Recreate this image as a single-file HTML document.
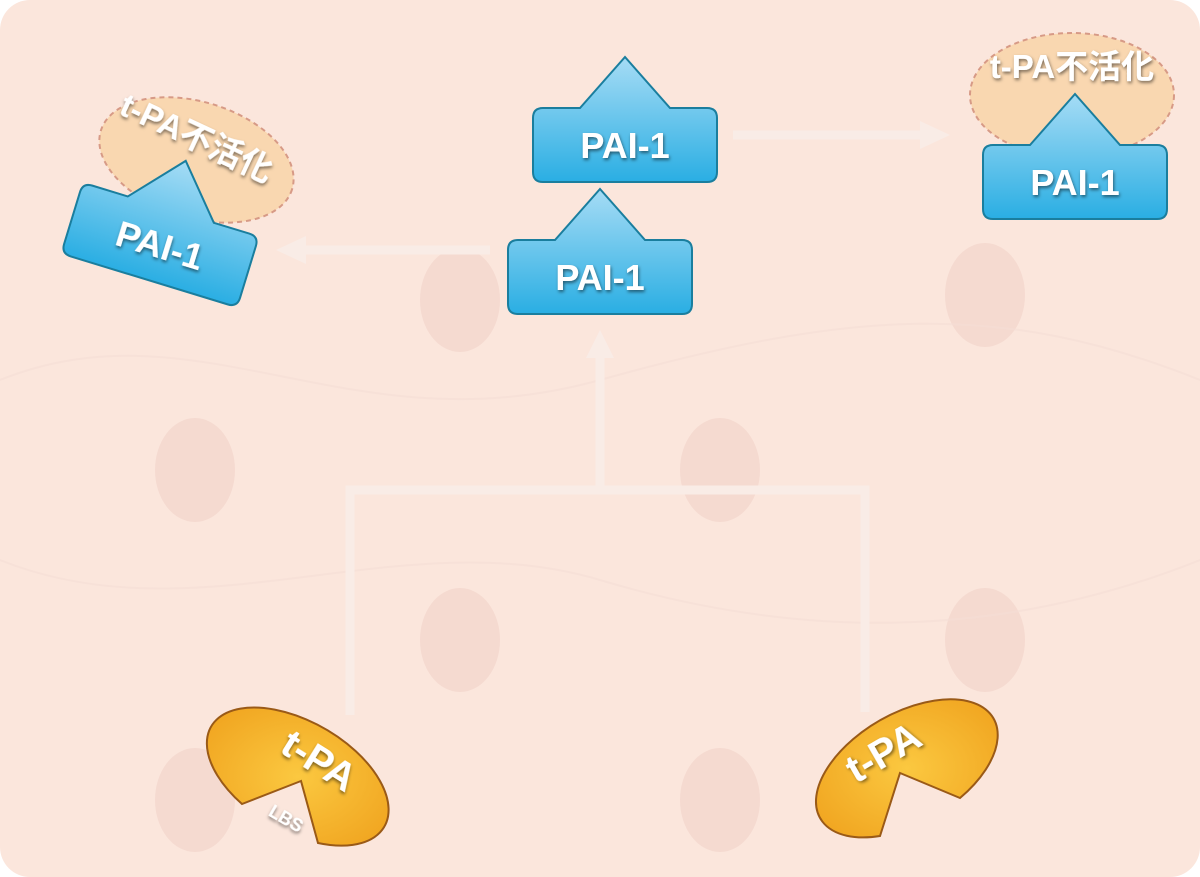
<!DOCTYPE html>
<html><head><meta charset="utf-8"><style>
html,body{margin:0;padding:0;background:#fff;}
svg{display:block}
text{font-family:"Liberation Sans","Noto Sans CJK JP",sans-serif;font-weight:bold;fill:#fff;}
</style></head><body>
<svg width="1200" height="877" viewBox="0 0 1200 877" xmlns="http://www.w3.org/2000/svg">
<defs>
<linearGradient id="blue" x1="0" y1="0" x2="0" y2="1">
<stop offset="0" stop-color="#a6dcf5"/><stop offset="1" stop-color="#2aaee3"/></linearGradient>
<radialGradient id="orange" cx="0.5" cy="0.5" r="0.6">
<stop offset="0" stop-color="#fbc840"/><stop offset="1" stop-color="#f1a722"/></radialGradient>
<filter id="sh"><feDropShadow dx="1" dy="2" stdDeviation="1.5" flood-color="#000" flood-opacity="0.5"/></filter>
<g id="pai">
<path d="M-82,-37 L-45,-37 L0,-88 L45,-37 L82,-37 Q92,-37 92,-27 L92,27 Q92,37 82,37 L-82,37 Q-92,37 -92,27 L-92,-27 Q-92,-37 -82,-37 Z" fill="url(#blue)" stroke="#1a7e9e" stroke-width="2"/>
<text x="0" y="13" font-size="36" text-anchor="middle" filter="url(#sh)">PAI-1</text>
</g>
</defs>
<rect x="0" y="0" width="1200" height="877" rx="30" fill="#fbe6dc"/>
<g fill="#f3d5cc" opacity="0.75">
<ellipse cx="195" cy="470" rx="40" ry="52"/><ellipse cx="460" cy="640" rx="40" ry="52"/>
<ellipse cx="720" cy="470" rx="40" ry="52"/><ellipse cx="985" cy="640" rx="40" ry="52"/>
<ellipse cx="985" cy="295" rx="40" ry="52"/><ellipse cx="460" cy="300" rx="40" ry="52"/>
<ellipse cx="195" cy="800" rx="40" ry="52"/><ellipse cx="720" cy="800" rx="40" ry="52"/>
</g>
<g fill="none" stroke="#f5ddd5" stroke-width="2" opacity="0.6">
<path d="M0,380 C200,300 350,450 600,380 S1000,300 1200,380"/>
<path d="M0,560 C200,640 400,520 600,580 S1000,640 1200,560"/>
</g>
<g stroke="#f9ece6" stroke-width="9" fill="none">
<path d="M350,715 V490 H865 V712"/>
<path d="M600,490 V355"/>
<path d="M733,135 H920"/>
<path d="M490,250 H305"/>
</g>
<g fill="#f9ece6">
<path d="M600,330 L614,358 L586,358 Z"/>
<path d="M950,135 L920,121 L920,149 Z"/>
<path d="M276,250 L306,236 L306,264 Z"/>
</g>
<ellipse cx="1072" cy="95" rx="102" ry="62" fill="#f9d7b0" stroke="#d79a86" stroke-width="2" stroke-dasharray="5,4"/>
<use href="#pai" x="1075" y="182"/>
<text x="1072" y="78" font-size="33" text-anchor="middle" filter="url(#sh)">t-PA不活化</text>
<use href="#pai" x="625" y="145"/>
<use href="#pai" x="600" y="277"/>
<g transform="translate(160,245) rotate(17)">
<ellipse cx="10" cy="-92" rx="100" ry="58" fill="#f9d7b0" stroke="#d79a86" stroke-width="2" stroke-dasharray="5,4"/>
<use href="#pai" x="0" y="0"/>
</g>
<text x="192" y="148" font-size="33" text-anchor="middle" transform="rotate(25 192 148)" filter="url(#sh)">t-PA不活化</text>
<path d="M301,781 L242,804 A100,55 30 1 1 318,843 Z" fill="url(#orange)" stroke="#9a5a17" stroke-width="2"/>
<text x="312" y="772" font-size="40" text-anchor="middle" transform="rotate(32 312 772)" filter="url(#sh)">t-PA</text>
<text x="283" y="824" font-size="18" text-anchor="middle" transform="rotate(30 283 824)" filter="url(#sh)">LBS</text>
<path d="M900,773 L960,798 A100,55 -30 1 0 880,836 Z" fill="url(#orange)" stroke="#9a5a17" stroke-width="2"/>
<text x="890" y="764" font-size="40" text-anchor="middle" transform="rotate(-30 890 764)" filter="url(#sh)">t-PA</text>
</svg>
</body></html>
